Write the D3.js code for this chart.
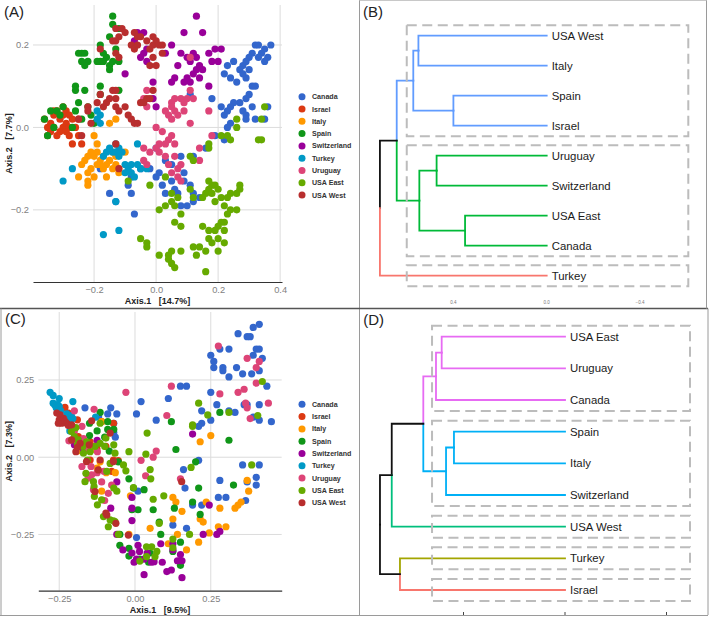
<!DOCTYPE html>
<html><head><meta charset="utf-8">
<script src="https://cdn.jsdelivr.net/npm/d3@7"></script>
<style>body{margin:0;background:#fff} svg{display:block}</style>
</head><body><svg id="chart" width="709" height="617"></svg>
<script>
// ---------- shared ----------
const groups = ["Canada","Israel","Italy","Spain","Switzerland","Turkey","Uruguay","USA East","USA West"];
const groupColors = ["#3366CC","#DC3912","#FF9900","#109618","#990099","#0099C6","#DD4477","#66AA00","#B82E2E"];

// ---------- Panel A : PCoA ----------
const A_xTicks = [-0.2, 0.0, 0.2, 0.4];
const A_yTicks = [-0.2, 0.0, 0.2];
const A_xTitle = "Axis.1\u00a0\u00a0\u00a0[14.7%]";
const A_yTitle = "Axis.2\u00a0\u00a0\u00a0[7.7%]";
const A_Canada = [[0.32,0.20],[0.33,0.20],[0.35,0.19],[0.37,0.20],[0.34,0.18],[0.31,0.18],[0.30,0.17],[0.29,0.16],[0.33,0.17],[0.36,0.17],[0.35,0.16],[0.28,0.15],[0.27,0.14],[0.30,0.14],[0.29,0.12],[0.28,0.13],[0.25,0.16],[0.23,0.15],[0.22,0.13],[0.24,0.12],[0.26,0.11],[0.31,0.10],[0.32,0.10],[0.30,0.08],[0.29,0.07],[0.27,0.06],[0.25,0.06],[0.24,0.05],[0.23,0.04],[0.22,0.03],[0.28,0.04],[0.29,0.03],[0.31,0.05],[0.36,0.05],[0.35,0.02],[0.32,0.02],[0.29,0.02],[0.24,0.01],[0.23,0.00],[0.18,0.07],[0.11,0.08],[0.21,0.05],
 [0.0,-0.05],[0.03,-0.08],[-0.02,-0.10],[0.0,-0.12],[0.02,-0.14],[0.05,-0.13],[0.06,-0.15],[0.07,-0.16],[0.09,-0.13],[0.11,-0.14],[0.12,-0.18],[0.14,-0.17],[0.12,-0.16],[0.10,-0.19],[0.08,-0.19],[0.03,-0.16],[0.01,-0.11],[-0.05,-0.10],[-0.08,-0.12],[-0.09,-0.14],[-0.08,-0.16],[-0.15,-0.16],[-0.13,-0.18],[-0.07,-0.21],[-0.18,-0.10],[0.16,-0.05],[0.12,-0.07],[0.08,-0.07],[0.22,-0.03],[0.19,-0.02],[0.09,-0.11],[0.05,-0.09]];
const A_Israel = [[-0.36,0.02],[-0.35,0.0],[-0.34,-0.01],[-0.33,0.03],[-0.32,0.04],[-0.31,0.02],[-0.30,0.0],[-0.29,0.04],[-0.28,0.03],[-0.30,0.03],[-0.31,-0.01],[-0.33,0.0],[-0.29,0.01],[-0.28,0.0],[-0.27,0.02],[-0.28,-0.02],[-0.27,-0.04],[-0.25,-0.02],[-0.24,-0.04],[-0.25,0.02],[-0.29,-0.01],[-0.32,-0.02],[-0.34,0.01],[-0.30,0.05],[-0.33,0.04],[-0.26,0.0],[-0.35,-0.02]];
const A_Italy = [[-0.20,-0.02],[-0.19,-0.04],[-0.21,-0.06],[-0.22,-0.07],[-0.23,-0.08],[-0.24,-0.09],[-0.20,-0.07],[-0.19,-0.06],[-0.18,-0.08],[-0.17,-0.07],[-0.16,-0.09],[-0.15,-0.08],[-0.14,-0.10],[-0.13,-0.09],[-0.12,-0.10],[-0.17,-0.10],[-0.18,-0.09],[-0.21,-0.10],[-0.22,-0.11],[-0.25,-0.12],[-0.22,-0.13],[-0.22,-0.14],[-0.16,-0.12],[-0.14,-0.06],[-0.13,-0.07],[-0.10,-0.06],[-0.15,0.01],[-0.13,0.02],[-0.12,-0.11],[-0.19,-0.09],[-0.20,-0.12]];
const A_Spain = [[-0.14,0.27],[-0.14,0.25],[-0.12,0.24],[-0.15,0.22],[-0.13,0.19],[-0.18,0.20],[-0.17,0.18],[-0.16,0.17],[-0.18,0.16],[-0.17,0.16],[-0.15,0.15],[-0.14,0.16],[-0.12,0.16],[-0.19,0.16],[-0.22,0.16],[-0.23,0.15],[-0.24,0.16],[-0.24,0.18],[-0.25,0.18],[-0.23,0.18],[-0.15,0.14],[-0.26,0.10],[-0.26,0.09],[-0.23,0.09],[-0.18,0.10],[-0.18,0.08],[-0.25,0.06],[-0.26,0.04],[-0.24,0.02],[-0.21,0.03],[-0.22,0.05],[-0.36,0.02],[-0.34,0.04],[-0.32,0.04],[-0.31,0.03],[-0.30,0.05],[-0.33,0.0],[-0.35,-0.02],[-0.27,0.0],[-0.12,0.09],[-0.20,0.01]];
const A_Switzerland = [[0.13,0.27],[0.15,0.23],[0.09,0.23],[0.05,0.20],[-0.06,0.23],[-0.04,0.23],[-0.07,0.21],[-0.03,0.19],[-0.04,0.18],[-0.05,0.17],[-0.03,0.16],[0.08,0.18],[0.10,0.17],[0.11,0.16],[0.12,0.18],[0.13,0.17],[0.14,0.15],[0.15,0.14],[0.13,0.14],[0.14,0.12],[0.12,0.13],[0.10,0.12],[0.11,0.11],[0.09,0.11],[0.07,0.15],[0.06,0.12],[0.05,0.11],[0.17,0.18],[0.19,0.19],[0.21,0.19],[0.18,0.16],[0.20,0.16],[0.17,0.10],[-0.01,0.11],[-0.10,0.13],[-0.01,0.07],[0.00,0.05],[0.03,0.18]];
const A_Turkey = [[-0.19,0.04],[-0.18,0.03],[-0.19,0.02],[-0.18,0.01],[-0.13,-0.04],[-0.12,-0.05],[-0.13,-0.06],[-0.12,-0.07],[-0.14,-0.06],[-0.11,-0.06],[-0.10,-0.09],[-0.09,-0.10],[-0.10,-0.11],[-0.08,-0.11],[-0.08,-0.09],[-0.06,-0.04],[-0.05,-0.10],[-0.06,-0.09],[-0.03,-0.10],[-0.17,-0.07],[-0.27,-0.10],[-0.30,-0.13],[-0.13,-0.18],[-0.17,-0.26],[-0.12,-0.25],[-0.07,-0.12],[-0.15,-0.05],[-0.16,-0.06]];
const A_Uruguay = [[-0.03,0.09],[-0.04,0.07],[-0.03,0.05],[0.05,0.06],[0.06,0.07],[0.05,0.05],[0.06,0.04],[0.04,0.03],[0.05,0.02],[0.08,0.07],[0.09,0.06],[0.10,0.07],[0.12,0.07],[0.11,0.09],[0.07,0.03],[0.11,0.01],[0.17,0.04],[0.11,0.17],[0.00,0.0],[0.02,-0.01],[0.05,-0.02],[0.04,-0.03],[0.06,-0.04],[0.03,-0.04],[0.01,-0.04],[0.00,-0.05],[-0.04,-0.05],[-0.02,-0.06],[0.01,-0.06],[0.03,-0.07],[0.06,-0.07],[0.04,-0.09],[0.05,-0.11],[0.07,-0.10],[0.08,-0.09],[0.07,-0.12],[0.08,-0.13],[-0.03,-0.09],[-0.04,-0.08],[0.14,-0.05],[0.18,-0.02],[0.14,-0.08],[0.09,0.04],[0.03,0.04]];
const A_USAEast = [[0.35,0.05],[0.34,0.02],[0.26,0.02],[0.26,0.00],[0.34,-0.03],[0.33,-0.03],[0.23,-0.02],[0.24,-0.03],[0.21,-0.02],[0.17,-0.04],[0.17,-0.05],[0.11,-0.07],[0.12,-0.08],[0.17,-0.13],[0.18,-0.14],[0.19,-0.14],[0.20,-0.15],[0.17,-0.15],[0.16,-0.16],[0.18,-0.16],[0.19,-0.18],[0.21,-0.17],[0.23,-0.17],[0.24,-0.16],[0.26,-0.16],[0.27,-0.15],[0.27,-0.14],[0.22,-0.19],[0.24,-0.20],[0.23,-0.21],[0.26,-0.20],[0.21,-0.23],[0.20,-0.24],[0.22,-0.23],[0.22,-0.25],[0.19,-0.25],[0.17,-0.25],[0.15,-0.24],[0.18,-0.28],[0.17,-0.27],[0.20,-0.27],[0.22,-0.28],[0.20,-0.30],[0.16,-0.30],[0.14,-0.29],[0.12,-0.29],[0.13,-0.31],[0.08,-0.30],[0.05,-0.30],[0.04,-0.31],[0.04,-0.32],[0.05,-0.33],[0.01,-0.31],[0.06,-0.34],[0.16,-0.35],[-0.03,-0.28],[-0.03,-0.29],[-0.05,-0.27],[0.06,-0.23],[0.08,-0.24],[0.01,-0.20],[0.03,-0.19],[0.05,-0.18],[0.06,-0.19],[0.08,-0.21],[0.05,-0.16],[0.07,-0.17],[0.11,-0.15],[0.12,-0.17],[-0.02,-0.14],[-0.09,-0.13],[0.03,-0.12],[0.15,-0.17]];
const A_USAWest = [[-0.13,0.24],[-0.11,0.24],[-0.12,0.22],[-0.13,0.21],[-0.10,0.23],[-0.07,0.23],[-0.06,0.22],[-0.08,0.20],[-0.07,0.19],[-0.06,0.20],[-0.05,0.22],[-0.03,0.21],[-0.01,0.22],[0.00,0.21],[-0.01,0.20],[0.01,0.20],[0.02,0.20],[-0.02,0.19],[-0.01,0.17],[0.02,0.18],[-0.02,0.15],[0.00,0.15],[-0.18,0.19],[-0.14,0.21],[-0.13,0.18],[-0.12,0.17],[-0.18,0.08],[-0.19,0.06],[-0.17,0.05],[-0.16,0.06],[-0.15,0.07],[-0.13,0.07],[-0.13,0.05],[-0.12,0.04],[-0.10,0.05],[-0.14,0.09],[-0.13,0.09],[-0.09,0.03],[-0.08,0.02],[-0.07,0.01],[-0.06,0.01],[-0.05,0.06],[-0.04,0.06],[-0.03,0.07],[-0.01,0.09],[-0.02,0.07],[-0.22,0.05],[-0.22,0.04],[-0.24,-0.02],[-0.21,0.01],[-0.13,-0.04],[-0.12,-0.10],[-0.25,0.02]];

// ---------- Panel C : PCoA ----------
const C_xTicks = [-0.25, 0.00, 0.25];
const C_yTicks = [-0.25, 0.00, 0.25];
const C_xTitle = "Axis.1\u00a0\u00a0\u00a0[9.5%]";
const C_yTitle = "Axis.2\u00a0\u00a0\u00a0[7.3%]";
const C_Canada = [[0.34,0.40],[0.39,0.42],[0.41,0.43],[0.37,0.39],[0.38,0.39],[0.40,0.35],[0.41,0.35],[0.31,0.35],[0.28,0.35],[0.25,0.33],[0.26,0.31],[0.26,0.29],[0.29,0.29],[0.29,0.28],[0.335,0.29],[0.355,0.27],[0.385,0.27],[0.41,0.28],[0.42,0.32],[0.39,0.33],[0.31,0.26],[0.435,0.23],[0.25,0.21],[0.15,0.23],[0.17,0.23],[0.11,0.19],[0.22,0.15],[0.25,0.12],[0.22,0.11],[0.27,0.17],[0.31,0.15],[0.33,0.145],[0.36,0.17],[0.37,0.17],[0.41,0.17],[0.45,0.115],[0.41,0.12],[0.39,0.13],[0.005,0.14],[0.02,0.18],[0.07,0.12],[-0.165,0.16],[-0.08,0.16],[-0.06,0.14],[-0.07,0.11],[-0.07,0.08],[-0.065,0.065],[-0.09,0.14],[-0.12,0.13],[0.21,0.10],[0.21,-0.01],[0.16,-0.04],[0.165,-0.10],[0.28,-0.075],[0.275,-0.13],[0.30,-0.13],[0.22,-0.155],[0.355,-0.025],[0.41,-0.025],[0.40,-0.065],[0.40,-0.09],[0.37,-0.08],[0.365,-0.14],[0.19,-0.155],[0.125,-0.22],[0.17,-0.23],[0.01,-0.11],[0.005,-0.26]];
const C_Israel = [[-0.231,0.161],[-0.22,0.143],[-0.19,0.121],[-0.214,0.124],[-0.187,0.067],[-0.176,0.04],[-0.162,0.04],[-0.148,0.05],[-0.126,0.029],[-0.11,0.115],[-0.096,0.035],[-0.071,-0.009],[-0.055,-0.011],[-0.077,-0.046],[-0.071,0.11],[-0.148,-0.009],[-0.198,0.064]];
const C_Italy = [[0.215,0.05],[0.25,0.07],[0.125,-0.13],[0.135,-0.145],[0.155,-0.175],[0.125,-0.20],[0.14,-0.25],[0.17,-0.30],[0.11,-0.28],[0.215,-0.20],[0.225,-0.21],[0.235,-0.145],[0.245,-0.245],[0.21,-0.275],[0.275,-0.225],[0.30,-0.225],[0.28,-0.165],[0.33,-0.165],[0.34,-0.155],[0.35,-0.145],[0.375,-0.11],[0.37,-0.075],[-0.015,-0.125],[0.05,-0.23],[-0.02,-0.25],[-0.115,-0.015],[-0.125,-0.035],[-0.11,-0.11],[-0.095,-0.05],[-0.065,-0.05],[-0.19,0.02],[-0.135,0.025],[-0.11,0.115]];
const C_Spain = [[-0.09,0.115],[-0.15,0.11],[-0.115,0.145],[-0.09,0.09],[-0.07,0.09],[-0.125,0.085],[-0.085,0.02],[-0.055,-0.015],[-0.02,-0.07],[-0.005,-0.10],[0.03,-0.105],[-0.01,-0.17],[0.01,-0.17],[0.06,-0.17],[0.08,-0.21],[0.085,-0.25],[0.13,-0.165],[0.12,0.115],[0.135,0.025],[0.20,-0.015],[0.19,-0.145],[0.21,-0.10],[0.215,-0.185],[0.31,0.055],[0.325,-0.09],[0.28,0.145],[0.15,-0.275],[0.15,-0.35],[0.125,-0.305],[-0.02,-0.295],[-0.02,-0.32],[0.015,-0.33],[0.05,-0.31],[0.045,-0.34],[-0.15,0.07],[-0.175,0.055],[-0.10,0.065],[-0.05,-0.285],[-0.05,-0.25]];
const C_Switzerland = [[0.19,0.075],[0.245,-0.155],[0.225,-0.25],[0.27,-0.25],[0.28,-0.24],[-0.01,-0.205],[-0.01,-0.165],[-0.01,-0.13],[-0.06,-0.25],[-0.04,-0.30],[-0.01,-0.31],[0.005,-0.33],[0.03,-0.33],[0.04,-0.31],[0.015,-0.305],[-0.003,-0.34],[0.03,-0.38],[0.055,-0.34],[0.09,-0.34],[0.085,-0.28],[0.105,-0.37],[0.12,-0.365],[0.125,-0.28],[0.125,-0.30],[0.15,-0.315],[0.155,-0.335],[0.14,-0.335],[0.155,-0.39],[0.063,-0.338],[0.01,-0.285],[-0.2,0.04],[-0.17,0.025],[-0.125,0.055],[-0.06,-0.08],[-0.08,-0.165]];
const C_Turkey = [[-0.28,0.21],[-0.27,0.20],[-0.25,0.19],[-0.27,0.175],[-0.265,0.17],[-0.255,0.17],[-0.26,0.16],[-0.25,0.165],[-0.205,0.18],[-0.225,0.14],[-0.21,0.135],[-0.215,0.12],[-0.205,0.125],[-0.215,0.085],[-0.13,0.13],[-0.245,0.15]];
const C_Uruguay = [[0.275,0.36],[0.37,0.32],[0.41,0.31],[0.40,0.29],[0.40,0.24],[0.36,0.22],[0.34,0.21],[0.28,0.205],[0.12,0.23],[-0.03,0.21],[0.44,0.175],[0.365,0.175],[0.37,0.16],[0.38,0.125],[0.105,0.135],[0.07,0.02],[0.06,0.0],[0.02,-0.01],[0.035,-0.06],[0.15,-0.07],[-0.135,0.155],[-0.2,0.15],[-0.175,0.10],[-0.2,0.085],[-0.19,0.05],[-0.17,0.06],[-0.155,0.025],[-0.175,-0.03],[-0.145,-0.03],[-0.125,-0.05],[-0.143,-0.057],[-0.155,-0.068],[-0.137,-0.105],[-0.11,-0.08],[-0.1,-0.14],[-0.077,-0.09],[-0.102,-0.046],[-0.124,0.018],[-0.088,-0.117],[-0.218,0.053]];
const C_USAEast = [[0.42,0.245],[0.405,0.135],[0.385,-0.025],[0.21,0.175],[0.24,0.137],[0.31,0.145],[0.19,0.105],[0.19,0.10],[0.185,-0.033],[0.04,0.078],[0.036,0.01],[0.05,-0.04],[0.052,-0.07],[-0.02,0.018],[-0.03,-0.044],[-0.005,-0.098],[0.06,-0.136],[0.095,-0.125],[0.08,-0.214],[0.125,-0.265],[0.18,-0.25],[0.125,-0.293],[0.055,-0.29],[0.038,-0.29],[0.072,-0.305],[0.066,-0.322],[0.016,-0.336],[0.038,-0.322],[-0.06,-0.11],[-0.07,-0.1],[-0.093,-0.046],[-0.082,-0.02],[-0.066,0.013],[-0.07,0.04],[-0.1,0.035],[-0.115,0.045],[-0.132,0.035],[-0.148,0.018],[-0.16,0.05],[-0.172,0.035],[-0.187,0.056],[-0.2,0.067],[-0.195,0.096],[-0.21,0.083],[-0.19,0.04],[-0.17,0.013],[-0.157,-0.009],[-0.162,-0.052],[-0.165,-0.079],[-0.137,-0.079],[-0.135,-0.095],[-0.134,-0.127],[-0.124,-0.154],[-0.11,-0.138],[-0.104,-0.192],[-0.082,-0.203],[-0.071,-0.206],[-0.088,-0.225],[-0.066,-0.208],[-0.055,-0.25],[-0.115,0.11],[-0.038,-0.025],[-0.096,0.062]];
const C_USAWest = [[-0.258,0.143],[-0.247,0.137],[-0.25,0.121],[-0.242,0.11],[-0.236,0.126],[-0.231,0.116],[-0.225,0.11],[-0.253,0.11],[-0.22,0.103],[-0.209,0.105],[-0.195,0.018],[-0.181,0.045],[-0.143,0.118],[-0.16,-0.014],[-0.121,-0.041],[-0.115,-0.009],[-0.132,-0.111],[-0.096,-0.181],[-0.093,-0.187],[-0.063,-0.214],[-0.071,-0.014],[-0.082,0.078],[-0.022,-0.252],[0.154,-0.079],[-0.209,0.056],[-0.151,0.04],[-0.19,0.032]];

// ---------- Panel B : dendrogram ----------
const B_leaves = ["USA West","Italy","Spain","Israel","Uruguay","Switzerland","USA East","Canada","Turkey"];
const B_cluster = [0,0,0,0,1,1,1,1,2];
const B_clusterColors = ["#619CFF","#00BA38","#F8766D"];
// merges: [a, b, height]; negative = leaf (1-based), positive = earlier merge (1-based)
const B_merges = [[-1,-2,0.550],[-3,-4,0.400],[1,2,0.572],[-5,-6,0.472],[-7,-8,0.350],[4,5,0.546],[3,6,0.643],[7,-9,0.715]];
const B_axisTicks = [0.4, 0.0, -0.4];

// ---------- Panel D : dendrogram ----------
const D_leaves = ["USA East","Uruguay","Canada","Spain","Italy","Switzerland","USA West","Turkey","Israel"];
const D_cluster = [0,0,0,1,1,1,2,3,4];
const D_clusterColors = ["#E76BF3","#00B0F6","#00BF7D","#A3A500","#F8766D"];
const D_merges = [[-1,-2,1.215],[1,-3,1.271],[-4,-5,1.094],[3,-6,1.172],[2,4,1.396],[5,-7,1.707],[-8,-9,1.626],[6,7,1.823]];
const D_axisTicks = [1, 0, -1];

// =====================================================
const svg = d3.select("#chart");
const FONT = "'Liberation Sans', Arial, Helvetica, sans-serif";

function scatterPanel(cfg) {
  const g = svg.append("g");
  const x = d3.scaleLinear().domain(cfg.xLim).range([cfg.left, cfg.right]);
  const y = d3.scaleLinear().domain(cfg.yLim).range([cfg.bottom, cfg.top]);
  g.append("g").selectAll("line").data(cfg.xTicks).join("line")
    .attr("x1", d => x(d)).attr("x2", d => x(d)).attr("y1", cfg.top).attr("y2", cfg.bottom)
    .attr("stroke", "#dcdcdc").attr("stroke-width", 1);
  g.append("g").selectAll("line").data(cfg.yTicks).join("line")
    .attr("y1", d => y(d)).attr("y2", d => y(d)).attr("x1", cfg.left).attr("x2", cfg.right)
    .attr("stroke", "#dcdcdc").attr("stroke-width", 1);
  cfg.series.forEach((pts, i) => {
    g.append("g").selectAll("circle").data(pts).join("circle")
      .attr("cx", d => x(d[0])).attr("cy", d => y(d[1])).attr("r", 3.6)
      .attr("fill", groupColors[i]);
  });
  const ax = g.append("g").attr("transform", `translate(0,${cfg.bottom})`)
    .call(d3.axisBottom(x).tickValues(cfg.xTicks).tickFormat(d3.format(cfg.fmt)).tickSize(0).tickSizeOuter(0).tickPadding(cfg.xPad));
  ax.select(".domain").attr("stroke", "#333").attr("stroke-width", 1.2);
  ax.selectAll("text").attr("fill", "#7f7f7f").attr("font-size", 9.3).attr("font-family", FONT);
  const ay = g.append("g").attr("transform", `translate(${cfg.left},0)`)
    .call(d3.axisLeft(y).tickValues(cfg.yTicks).tickFormat(d3.format(cfg.fmt)).tickSize(0).tickPadding(4));
  ay.select(".domain").remove();
  ay.selectAll("text").attr("fill", "#7f7f7f").attr("font-size", 9.3).attr("font-family", FONT);
  g.append("text").attr("x", (cfg.left + cfg.right) / 2).attr("y", cfg.xTitleY)
    .attr("text-anchor", "middle").attr("font-family", FONT).attr("font-weight", "bold")
    .attr("font-size", 9).attr("fill", "#222").text(cfg.xTitle);
  g.append("text").attr("transform", `translate(11.5,${(cfg.top + cfg.bottom) / 2}) rotate(-90)`)
    .attr("text-anchor", "middle").attr("font-family", FONT).attr("font-weight", "bold")
    .attr("font-size", 9).attr("fill", "#222").text(cfg.yTitle);
  const lg = g.append("g").selectAll("g").data(groups).join("g")
    .attr("transform", (d, i) => `translate(302,${cfg.legendY + i * 12.3})`);
  lg.append("circle").attr("r", 3.5).attr("fill", (d, i) => groupColors[i]);
  lg.append("text").attr("x", 10).attr("dy", "0.35em").attr("font-family", FONT)
    .attr("font-weight", "bold").attr("font-size", 7.1).attr("fill", "#333").text(d => d);
  g.append("text").attr("x", cfg.labelX).attr("y", cfg.labelY).attr("font-family", FONT)
    .attr("font-size", 15).attr("fill", "#222").text(cfg.label);
}

function dendroPanel(cfg) {
  const g = svg.append("g");
  const x = d3.scaleLinear().domain([0, 1]).range([cfg.x0, cfg.x0 - cfg.k]);
  const leafNodes = cfg.leaves.map((name, i) => ({
    name, h: 0, y: cfg.y0 + i * cfg.step, cl: new Set([cfg.cluster[i]]), c: cfg.cluster[i]
  }));
  const merged = [];
  cfg.merges.forEach(([a, b, h]) => {
    const ca = a < 0 ? leafNodes[-a - 1] : merged[a - 1];
    const cb = b < 0 ? leafNodes[-b - 1] : merged[b - 1];
    const cl = new Set([...ca.cl, ...cb.cl]);
    merged.push({ children: [ca, cb], h, y: (ca.y + cb.y) / 2, cl, c: cl.size === 1 ? [...cl][0] : -1 });
  });
  const segs = [];
  merged.forEach(n => n.children.forEach(ch => segs.push({ n, ch })));
  g.append("g").selectAll("path").data(segs).join("path")
    .attr("d", s => `M${x(s.n.h)},${s.n.y}V${s.ch.y}H${x(s.ch.h)}`)
    .attr("fill", "none").attr("stroke-width", 1.8).attr("stroke-linecap", "square")
    .attr("stroke", s => s.ch.c < 0 ? "#111" : cfg.colors[s.ch.c]);
  const boxes = d3.groups(leafNodes, d => d.c).map(([c, ls]) => ({
    y1: d3.min(ls, d => d.y) - cfg.pad, y2: d3.max(ls, d => d.y) + cfg.pad
  }));
  g.append("g").selectAll("rect").data(boxes).join("rect")
    .attr("x", x(cfg.boxH)).attr("width", cfg.boxRight - x(cfg.boxH))
    .attr("y", d => d.y1).attr("height", d => d.y2 - d.y1)
    .attr("fill", "none").attr("stroke", "#bcbcbc").attr("stroke-width", 2)
    .attr("stroke-dasharray", "10,5.5");
  g.append("g").selectAll("text").data(leafNodes).join("text")
    .attr("x", x(0) + 5).attr("y", d => d.y).attr("dy", "0.35em")
    .attr("font-family", FONT).attr("font-size", 11.4).attr("fill", "#1a1a1a").text(d => d.name);
  if (cfg.tickLabels) {
    g.append("g").selectAll("text").data(cfg.ticks).join("text")
      .attr("x", d => x(d)).attr("y", cfg.tickY).attr("text-anchor", "middle")
      .attr("font-family", FONT).attr("font-size", 4.5).attr("fill", "#777")
      .text(d => d3.format(".1f")(d));
  } else {
    g.append("g").selectAll("line").data(cfg.ticks).join("line")
      .attr("x1", d => x(d)).attr("x2", d => x(d)).attr("y1", cfg.tickY - 3).attr("y2", cfg.tickY)
      .attr("stroke", "#444").attr("stroke-width", 1);
  }
  g.append("text").attr("x", cfg.labelX).attr("y", cfg.labelY).attr("font-family", FONT)
    .attr("font-size", 15).attr("fill", "#222").text(cfg.label);
}

scatterPanel({
  series: [A_Canada, A_Israel, A_Italy, A_Spain, A_Switzerland, A_Turkey, A_Uruguay, A_USAEast, A_USAWest],
  xLim: [-0.397, 0.406], yLim: [-0.375, 0.297], left: 33, right: 282, top: 5, bottom: 282,
  xTicks: A_xTicks, yTicks: A_yTicks, fmt: ".1f", xPad: 4, xTitle: A_xTitle, yTitle: A_yTitle,
  xTitleY: 303.5, legendY: 96.7, label: "(A)", labelX: 4, labelY: 16.5
});
scatterPanel({
  series: [C_Canada, C_Israel, C_Italy, C_Spain, C_Switzerland, C_Turkey, C_Uruguay, C_USAEast, C_USAWest],
  xLim: [-0.319, 0.484], yLim: [-0.432, 0.47], left: 38.3, right: 281.7, top: 312, bottom: 590.7,
  xTicks: C_xTicks, yTicks: C_yTicks, fmt: ".2f", xPad: 5, xTitle: C_xTitle, yTitle: C_yTitle,
  xTitleY: 612.5, legendY: 404.3, label: "(C)", labelX: 5, labelY: 323.5
});
dendroPanel({
  leaves: B_leaves, cluster: B_cluster, colors: B_clusterColors, merges: B_merges,
  x0: 546.7, k: 233.25, y0: 35.7, step: 30, pad: 10.5, boxH: 0.6, boxRight: 688.3,
  ticks: B_axisTicks, tickLabels: true, tickY: 303.5, label: "(B)", labelX: 363, labelY: 16.5
});
dendroPanel({
  leaves: D_leaves, cluster: D_cluster, colors: D_clusterColors, merges: D_merges,
  x0: 565, k: 101.5, y0: 336.7, step: 31.66, pad: 11, boxH: 1.31, boxRight: 690,
  ticks: D_axisTicks, tickLabels: false, tickY: 615, label: "(D)", labelX: 363.3, labelY: 324.5
});

// frame lines
const frame = svg.append("g").attr("fill", "none");
frame.append("line").attr("x1", 359.5).attr("x2", 359.5).attr("y1", 0).attr("y2", 615).attr("stroke", "#9a9a9a");
frame.append("line").attr("x1", 0).attr("x2", 708).attr("y1", 308.5).attr("y2", 308.5).attr("stroke", "#555").attr("stroke-width", 1.3);
frame.append("line").attr("x1", 706.5).attr("x2", 706.5).attr("y1", 0).attr("y2", 308.5).attr("stroke", "#9a9a9a");
frame.append("line").attr("x1", 708).attr("x2", 708).attr("y1", 308.5).attr("y2", 615).attr("stroke", "#9a9a9a");
frame.append("line").attr("x1", 359.5).attr("x2", 706.5).attr("y1", 0.5).attr("y2", 0.5).attr("stroke", "#c8c8c8");
frame.append("line").attr("x1", 0).attr("x2", 708).attr("y1", 615.5).attr("y2", 615.5).attr("stroke", "#9a9a9a");
frame.append("line").attr("x1", 1).attr("x2", 1).attr("y1", 308.5).attr("y2", 615.5).attr("stroke", "#9a9a9a");
</script></body></html>
